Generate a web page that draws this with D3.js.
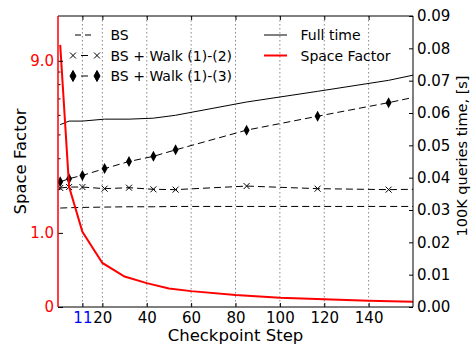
<!DOCTYPE html>
<html>
<head>
<meta charset="utf-8">
<script src="https://cdn.jsdelivr.net/npm/d3@7"></script>
<style>
  body { margin: 0; background: #fff; }
  text { font-family: "DejaVu Sans", sans-serif; }
</style>
</head>
<body>
<div id="chart"></div>
<script>
// checkpoint steps where the query times were measured
const timeSteps = [1, 5, 11, 21, 32, 43, 53, 85, 117, 149, 160];
const bsTime    = [0.0306, 0.0307, 0.0308, 0.0309, 0.0310, 0.0310, 0.0311, 0.0311, 0.0311, 0.0311, 0.0311];
const walk12    = [0.0368, 0.0371, 0.0371, 0.0366, 0.0369, 0.0364, 0.0363, 0.0374, 0.0366, 0.0363, 0.0364];
const walk13    = [0.0387, 0.0397, 0.0407, 0.0428, 0.0450, 0.0466, 0.0486, 0.0547, 0.0590, 0.0632, 0.0648];
const fullTime  = [0.0564, 0.0575, 0.0575, 0.0581, 0.0581, 0.0584, 0.0593, 0.0634, 0.0667, 0.0701, 0.0717];

// space factor curve
const spaceSteps  = [1, 5, 11, 20, 30, 40, 50, 60, 80, 100, 120, 140, 160];
const spaceFactor = [10.6, 2.08, 1.02, 0.51, 0.33, 0.25, 0.19, 0.16, 0.119, 0.091, 0.075, 0.061, 0.051];

const xTicks = [11, 20, 40, 60, 80, 100, 120, 140];
const spaceTicks = [0, 1, 9];
const spaceTickLabels = ['0', '1.0', '9.0'];
const spaceMinor = [2, 3, 4, 5, 6, 7, 8];
const timeTicks = [0, 0.01, 0.02, 0.03, 0.04, 0.05, 0.06, 0.07, 0.08, 0.09];

const width = 471, height = 347;
const margin = { top: 16, right: 58, bottom: 40, left: 58 };
const iw = width - margin.left - margin.right;
const ih = height - margin.top - margin.bottom;

const svg = d3.select('#chart').append('svg')
  .attr('width', width)
  .attr('height', height);

svg.append('defs').append('clipPath').attr('id', 'clip')
  .append('rect').attr('width', iw).attr('height', ih);

const g = svg.append('g').attr('transform', `translate(${margin.left},${margin.top})`);

const x = d3.scaleLinear().domain([0, 160]).range([0, iw]);
const yTime = d3.scaleLinear().domain([0, 0.09]).range([ih, 0]);
// space factor is drawn as log(1 + v)
const ySpace = d3.scaleLog().domain([1, 15.2]).range([ih, 0]);

// vertical grid
g.selectAll('.grid').data(xTicks).enter().append('line')
  .attr('x1', d => x(d)).attr('x2', d => x(d))
  .attr('y1', 0).attr('y2', ih)
  .attr('stroke', '#888').attr('stroke-width', 1)
  .attr('stroke-dasharray', '1.5,2.5');

const plot = g.append('g').attr('clip-path', 'url(#clip)');

const timeLine = vals => d3.line()
  .x((d, i) => x(timeSteps[i]))
  .y((d, i) => yTime(vals[i]))(vals);

plot.append('path').attr('d', timeLine(bsTime))
  .attr('fill', 'none').attr('stroke', '#000').attr('stroke-width', 1)
  .attr('stroke-dasharray', '7,4');
plot.append('path').attr('d', timeLine(walk12))
  .attr('fill', 'none').attr('stroke', '#000').attr('stroke-width', 1)
  .attr('stroke-dasharray', '7,4');
plot.append('path').attr('d', timeLine(walk13))
  .attr('fill', 'none').attr('stroke', '#000').attr('stroke-width', 1)
  .attr('stroke-dasharray', '7,4');
plot.append('path').attr('d', timeLine(fullTime))
  .attr('fill', 'none').attr('stroke', '#000').attr('stroke-width', 1);

const crossPath = 'M-3,-3L3,3M-3,3L3,-3';
const diamondPath = 'M0,-5.5L3,0L0,5.5L-3,0Z';

// markers at every measured step except the closing point at the right edge
const marked = timeSteps.slice(0, -1);
plot.selectAll('.m12').data(marked).enter().append('path')
  .attr('transform', (d, i) => `translate(${x(d)},${yTime(walk12[i])})`)
  .attr('d', crossPath).attr('stroke', '#000').attr('stroke-width', 1).attr('fill', 'none');
plot.selectAll('.m13').data(marked).enter().append('path')
  .attr('transform', (d, i) => `translate(${x(d)},${yTime(walk13[i])})`)
  .attr('d', diamondPath).attr('fill', '#000');

const spaceLine = d3.line()
  .x((d, i) => x(spaceSteps[i]))
  .y(d => ySpace(1 + d));
plot.append('path').attr('d', spaceLine(spaceFactor))
  .attr('fill', 'none').attr('stroke', '#f00').attr('stroke-width', 2);

// axes
const xAxis = d3.axisBottom(x).tickValues(xTicks).tickSizeInner(-4).tickSizeOuter(0).tickPadding(5);
const xg = g.append('g').attr('transform', `translate(0,${ih})`).call(xAxis);
xg.select('.domain').remove();
xg.selectAll('text').attr('font-size', 15).attr('fill', d => d === 11 ? '#0000ff' : '#000');

const xTop = d3.axisTop(x).tickValues(xTicks).tickSizeInner(-4).tickSizeOuter(0).tickFormat('');
const xtg = g.append('g').call(xTop);
xtg.select('.domain').remove();

const leftAxis = d3.axisLeft(ySpace)
  .tickValues(spaceTicks.map(v => 1 + v))
  .tickFormat((d, i) => spaceTickLabels[i])
  .tickSizeInner(-5).tickSizeOuter(0).tickPadding(4);
const lg = g.append('g').call(leftAxis);
lg.select('.domain').remove();
lg.selectAll('text').attr('font-size', 15).attr('fill', '#f00');

g.selectAll('.minor').data(spaceMinor).enter().append('line')
  .attr('x1', 0).attr('x2', 2.5)
  .attr('y1', d => ySpace(1 + d)).attr('y2', d => ySpace(1 + d))
  .attr('stroke', '#000');

const rightAxis = d3.axisRight(yTime).tickValues(timeTicks).tickFormat(d3.format('.2f'))
  .tickSizeInner(-4).tickSizeOuter(0).tickPadding(4);
const rg = g.append('g').attr('transform', `translate(${iw},0)`).call(rightAxis);
rg.select('.domain').remove();
rg.selectAll('text').attr('font-size', 15).attr('fill', '#000');

// frame
g.append('line').attr('x1', 0).attr('x2', iw).attr('y1', 0).attr('y2', 0).attr('stroke', '#000');
g.append('line').attr('x1', 0).attr('x2', iw).attr('y1', ih).attr('y2', ih).attr('stroke', '#000');
g.append('line').attr('x1', iw).attr('x2', iw).attr('y1', 0).attr('y2', ih).attr('stroke', '#000');
g.append('line').attr('x1', 0).attr('x2', 0).attr('y1', 0).attr('y2', ih).attr('stroke', '#f00').attr('stroke-width', 1.5);

// axis titles
svg.append('text').attr('x', margin.left + iw / 2).attr('y', 341)
  .attr('text-anchor', 'middle').attr('font-size', 16.5).text('Checkpoint Step');
svg.append('text').attr('transform', `translate(20,${margin.top + ih / 2}) rotate(-90)`)
  .attr('text-anchor', 'middle').attr('dominant-baseline', 'central')
  .attr('font-size', 16.5).text('Space Factor');
svg.append('text').attr('transform', `translate(462,156) rotate(-90)`)
  .attr('text-anchor', 'middle').attr('dominant-baseline', 'central')
  .attr('font-size', 14.5).text('100K queries time, [s]');

// legends
const legLeft = [
  { label: 'BS', marker: null },
  { label: 'BS + Walk (1)-(2)', marker: crossPath },
  { label: 'BS + Walk (1)-(3)', marker: diamondPath }
];
const ll = svg.append('g');
legLeft.forEach((d, i) => {
  const yy = 35 + i * 20.5;
  ll.append('line').attr('x1', 73).attr('x2', 97).attr('y1', yy).attr('y2', yy)
    .attr('stroke', '#000').attr('stroke-dasharray', d.marker ? '0,8,7,20' : '0,2,6,4,6,20');
  if (d.marker) {
    [73, 97].forEach(mx => {
      ll.append('path').attr('transform', `translate(${mx},${yy})`).attr('d', d.marker)
        .attr('stroke', '#000').attr('fill', d.marker === diamondPath ? '#000' : 'none');
    });
  }
  ll.append('text').attr('x', 110.5).attr('y', yy).attr('dominant-baseline', 'central')
    .attr('font-size', 14).text(d.label);
});

const legRight = [
  { label: 'Full time', color: '#000', w: 1 },
  { label: 'Space Factor', color: '#f00', w: 2 }
];
legRight.forEach((d, i) => {
  const yy = 35 + i * 20.5;
  svg.append('line').attr('x1', 264).attr('x2', 287).attr('y1', yy).attr('y2', yy)
    .attr('stroke', d.color).attr('stroke-width', d.w);
  svg.append('text').attr('x', 300.5).attr('y', yy).attr('dominant-baseline', 'central')
    .attr('font-size', 14).text(d.label);
});
</script>
</body>
</html>
